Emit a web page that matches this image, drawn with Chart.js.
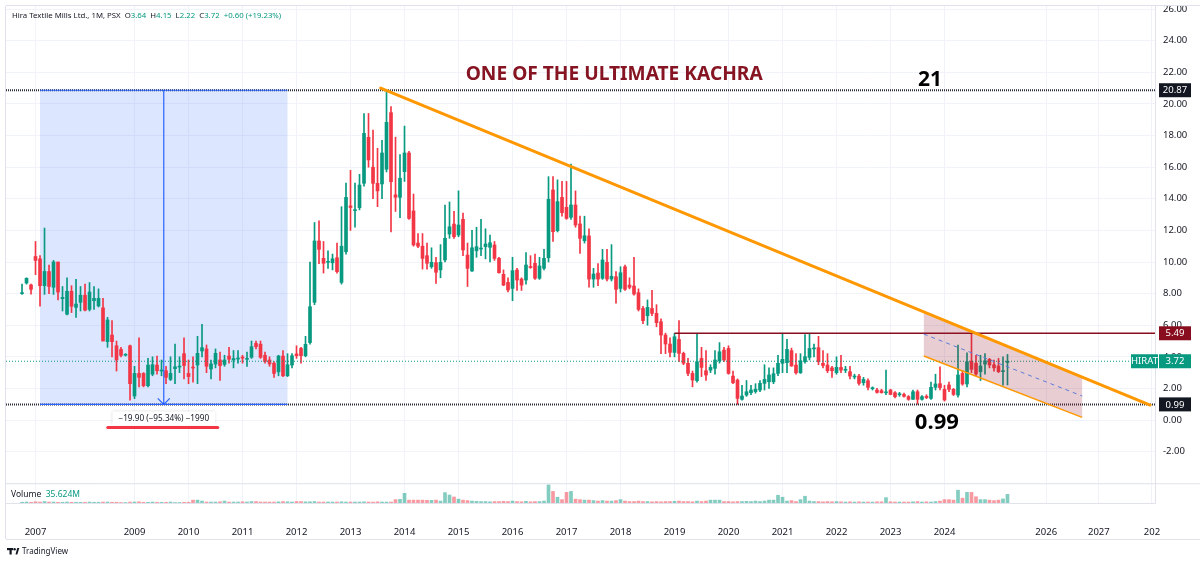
<!DOCTYPE html>
<html>
<head>
<meta charset="utf-8">
<script src="https://cdn.jsdelivr.net/npm/chart.js@4.4.1/dist/chart.umd.min.js"></script>
<style>
  html, body { margin: 0; padding: 0; background: #fff; }
</style>
</head>
<body>
<canvas id="chart" width="1200" height="562"></canvas>
<script>
// monthly bars, Oct 2006 .. Mar 2025 (index based like TradingView)
const opens = [
  8.00, 8.67, 8.55, 10.35, 10.20, 8.50, 9.40, 8.40, 10.00, 7.68,
  6.70, 8.15, 7.13, 7.45, 7.90, 7.00, 7.55, 7.22, 7.10, 4.96,
  5.38, 4.70, 4.47, 4.10, 4.70, 1.52, 2.95, 2.95, 2.17, 2.90,
  3.48, 3.10, 3.12, 2.57, 3.25, 3.35, 4.20, 2.95, 3.33, 3.48,
  4.37, 4.50, 3.23, 3.54, 3.80, 3.52, 4.05, 3.80, 3.86, 3.96,
  3.84, 3.97, 4.85, 4.80, 4.10, 3.80, 3.60, 3.05, 4.05, 2.80,
  3.48, 4.18, 4.53, 4.07, 4.90, 7.45, 11.33, 10.23, 9.98, 9.95,
  10.27, 8.71, 10.65, 13.55, 13.25, 13.44, 14.98, 17.89, 16.00, 14.98,
  14.94, 15.87, 19.45, 14.25, 14.09, 15.72, 16.90, 13.23, 11.20, 11.00,
  10.40, 9.70, 9.96, 9.50, 10.13, 11.77, 12.40, 11.71, 12.70, 10.44,
  9.43, 10.71, 10.82, 10.97, 10.93, 11.08, 10.23, 9.22, 8.71, 8.33,
  9.49, 8.92, 8.86, 9.70, 9.92, 8.97, 9.60, 10.27, 14.56, 11.98,
  14.09, 13.46, 12.83, 13.61, 12.41, 11.35, 11.65, 8.92, 9.30, 8.97,
  9.98, 8.92, 9.07, 8.33, 9.70, 8.54, 8.48, 8.06, 7.06, 6.60,
  7.06, 6.75, 6.22, 5.38, 4.81, 4.28, 5.10, 4.22, 3.59, 2.95,
  2.49, 3.90, 3.12, 3.16, 3.27, 3.75, 4.43, 4.53, 2.78, 2.53,
  1.31, 1.58, 1.73, 1.80, 1.90, 2.32, 2.42, 2.42, 2.95, 3.59,
  3.63, 4.39, 3.48, 2.99, 3.69, 3.96, 4.50, 4.58, 3.59, 3.48,
  3.30, 3.00, 3.33, 3.15, 3.06, 2.72, 2.78, 2.36, 2.49, 1.98,
  1.90, 1.86, 1.72, 1.90, 1.73, 1.60, 1.62, 1.48, 1.31, 1.79,
  1.31, 1.50, 1.37, 2.07, 2.30, 1.94, 2.22, 1.94, 1.58, 2.95,
  2.28, 3.73, 3.60, 3.06, 3.54, 3.84, 3.50, 3.42, 3.06, 3.64
];
const highs = [
  8.60, 9.00, 8.60, 11.30, 10.40, 12.15, 9.80, 10.10, 10.00, 8.45,
  9.00, 8.50, 8.90, 8.45, 8.60, 8.70, 8.45, 8.30, 7.70, 6.50,
  6.30, 5.00, 4.60, 4.20, 4.75, 3.40, 5.20, 3.00, 3.90, 4.00,
  4.05, 3.80, 3.40, 4.00, 4.80, 4.00, 5.20, 3.80, 4.00, 5.30,
  6.05, 4.75, 3.80, 4.50, 4.30, 4.10, 4.60, 4.40, 4.40, 4.10,
  4.30, 5.00, 5.00, 5.00, 4.30, 4.00, 3.70, 4.10, 4.40, 4.20,
  4.20, 4.70, 4.60, 5.30, 10.00, 12.50, 12.60, 11.30, 10.70, 10.50,
  11.20, 13.50, 15.00, 15.80, 15.00, 15.55, 19.40, 19.40, 18.35, 17.20,
  17.70, 20.87, 19.83, 17.90, 16.80, 18.60, 17.00, 14.30, 11.80, 11.80,
  11.20, 10.90, 10.30, 11.10, 13.60, 13.80, 13.20, 14.50, 13.10, 11.20,
  12.00, 12.20, 12.70, 12.10, 11.70, 11.30, 10.30, 9.50, 9.00, 10.30,
  9.60, 9.00, 10.60, 10.40, 10.50, 10.30, 10.80, 15.40, 15.40, 15.20,
  15.10, 15.10, 16.20, 14.50, 12.90, 12.90, 12.10, 9.60, 9.90, 10.80,
  10.80, 11.10, 9.40, 9.70, 9.80, 9.00, 10.30, 8.30, 7.20, 7.60,
  8.20, 7.30, 6.40, 5.50, 5.20, 5.49, 6.30, 4.30, 3.90, 3.10,
  5.49, 4.60, 4.40, 3.50, 4.40, 4.90, 4.60, 4.70, 3.10, 2.60,
  2.20, 2.50, 2.20, 2.30, 2.50, 3.50, 3.30, 3.30, 4.10, 5.49,
  5.10, 4.55, 4.20, 4.20, 5.40, 5.45, 4.80, 5.30, 4.40, 4.20,
  3.40, 4.00, 4.10, 3.40, 3.40, 2.90, 2.90, 2.70, 2.60, 2.10,
  2.00, 1.95, 3.16, 1.95, 1.80, 1.75, 1.70, 1.55, 1.90, 1.90,
  1.55, 1.60, 2.40, 2.90, 3.37, 2.20, 2.40, 2.00, 4.75, 3.10,
  4.26, 5.49, 4.10, 4.10, 4.20, 3.90, 3.80, 3.90, 4.00, 4.15
];
const lows = [
  7.95, 8.60, 7.97, 9.20, 7.20, 7.95, 8.00, 7.95, 7.60, 6.90,
  6.65, 6.80, 6.50, 6.90, 6.90, 6.90, 7.00, 7.15, 5.00, 4.60,
  4.00, 3.10, 4.00, 4.05, 1.25, 1.35, 2.10, 2.10, 2.10, 2.80,
  2.90, 2.80, 2.30, 2.50, 2.30, 3.00, 2.60, 2.30, 2.40, 2.30,
  4.00, 3.00, 2.60, 3.30, 2.50, 3.40, 3.60, 3.30, 3.60, 3.60,
  3.40, 3.90, 4.50, 3.90, 3.60, 3.40, 2.70, 2.80, 2.75, 2.75,
  3.30, 3.90, 3.60, 4.00, 4.80, 7.30, 9.90, 9.30, 9.60, 9.50,
  9.30, 8.60, 10.50, 12.00, 12.20, 13.30, 14.80, 16.00, 14.00, 13.50,
  14.00, 15.70, 11.90, 13.20, 12.80, 15.10, 12.70, 11.00, 10.90, 9.55,
  9.55, 9.60, 8.65, 9.00, 10.00, 11.50, 11.50, 11.60, 10.40, 8.45,
  9.40, 10.30, 10.40, 10.20, 10.00, 10.10, 9.30, 8.50, 8.10, 7.55,
  8.20, 8.20, 8.60, 9.60, 8.90, 8.90, 9.50, 10.00, 11.30, 11.90,
  12.90, 12.70, 12.70, 12.20, 10.55, 11.20, 8.40, 8.40, 8.50, 8.90,
  8.80, 8.80, 7.40, 8.10, 8.20, 8.30, 7.90, 6.90, 6.10, 6.00,
  6.60, 5.90, 4.20, 4.20, 4.00, 4.00, 3.70, 3.50, 2.80, 2.10,
  2.40, 2.75, 2.50, 3.00, 2.90, 3.60, 3.70, 2.90, 2.30, 0.99,
  1.25, 1.50, 1.60, 1.70, 1.80, 1.90, 2.00, 2.30, 2.80, 3.00,
  3.00, 3.40, 2.90, 2.95, 3.60, 3.80, 4.00, 3.50, 3.30, 3.00,
  2.70, 2.90, 3.00, 3.00, 2.60, 2.60, 2.20, 2.20, 1.90, 1.90,
  1.70, 1.70, 1.60, 1.60, 1.40, 1.50, 1.45, 1.25, 1.30, 1.00,
  1.25, 1.35, 1.30, 1.90, 1.90, 1.20, 1.80, 1.55, 1.45, 2.20,
  2.10, 3.00, 2.80, 2.50, 2.90, 3.30, 3.10, 3.00, 2.20, 2.22
];
const closes = [
  8.05, 8.97, 8.27, 10.10, 8.50, 9.40, 8.45, 10.00, 8.10, 7.76,
  8.15, 7.20, 7.34, 7.90, 6.95, 8.10, 7.70, 7.70, 5.00, 6.33,
  4.96, 3.80, 4.09, 4.12, 2.30, 2.95, 2.70, 2.17, 3.48, 3.50,
  3.12, 3.15, 2.70, 2.95, 3.37, 3.40, 3.45, 2.75, 3.29, 4.22,
  4.58, 3.40, 3.55, 4.22, 3.44, 3.80, 3.85, 3.89, 3.90, 3.92,
  3.88, 4.64, 4.64, 3.97, 3.70, 3.55, 2.95, 4.05, 2.80, 3.50,
  4.07, 4.07, 4.07, 4.79, 7.17, 11.33, 10.80, 9.92, 10.02, 10.20,
  9.39, 11.00, 14.09, 13.45, 13.30, 14.87, 18.14, 16.46, 14.98, 14.50,
  16.90, 18.84, 15.08, 14.10, 15.30, 16.90, 12.76, 11.08, 11.00, 10.23,
  9.92, 9.98, 9.35, 9.98, 11.50, 12.23, 11.60, 12.34, 10.76, 9.60,
  10.90, 10.97, 10.86, 11.14, 11.22, 10.23, 9.32, 8.54, 8.23, 9.45,
  8.86, 8.54, 9.81, 9.65, 8.97, 9.75, 10.23, 13.97, 11.92, 13.82,
  13.12, 12.76, 13.61, 12.34, 11.50, 11.66, 8.92, 9.24, 8.92, 10.13,
  8.92, 9.10, 8.27, 9.32, 8.27, 8.40, 7.97, 7.00, 6.29, 7.13,
  6.75, 6.16, 5.38, 4.81, 4.28, 5.27, 4.22, 3.59, 2.95, 2.53,
  3.69, 3.33, 2.85, 3.33, 3.80, 4.32, 3.80, 2.95, 2.36, 1.37,
  1.52, 1.79, 1.90, 1.95, 2.32, 2.57, 2.85, 2.93, 3.59, 3.84,
  4.47, 3.42, 2.99, 3.75, 4.01, 4.53, 4.55, 3.69, 3.45, 3.12,
  3.12, 3.33, 3.16, 3.20, 2.78, 2.76, 2.32, 2.57, 2.07, 2.02,
  1.75, 1.73, 1.75, 1.62, 1.48, 1.64, 1.50, 1.31, 1.79, 1.31,
  1.48, 1.42, 2.07, 2.28, 2.05, 1.27, 1.94, 1.62, 2.85, 2.28,
  3.69, 3.21, 2.91, 3.42, 3.75, 3.48, 3.30, 3.06, 3.12, 3.72
];
// volume in millions
const volumes = [
  3, 4, 3, 5, 4, 6, 4, 4, 3, 3, 4, 3, 3, 3, 3, 4, 3, 3, 4, 4,
  3, 3, 2, 2, 4, 4, 5, 3, 3, 4, 3, 3, 3, 4, 2, 2, 3, 3,
  12, 12, 8, 4, 4, 4, 5, 8, 4, 4, 4, 5, 4, 6, 6, 4, 4, 4, 4, 5, 6, 5, 4, 6, 6, 5,
  5, 6, 4, 4, 4, 4, 4, 5, 4, 4, 4, 4, 5, 4, 4, 5, 4, 4, 4,
  14, 15, 40, 12, 12, 12, 12, 11, 11, 12, 8, 43, 33, 25, 16, 12, 10,
  8, 7, 6, 6, 5, 6, 6, 7, 6, 8, 6, 5, 7, 5, 6, 6, 8,
  75, 48, 24, 14, 44, 48, 16, 14, 12, 12, 10, 8, 10, 8,
  8, 10, 14, 8, 6, 6, 8, 6, 6, 5, 6, 5, 6, 6, 7, 8, 6, 6, 5, 8,
  6, 8, 12, 12, 12, 6, 6, 5, 6, 6, 7, 6, 8, 6, 8, 12, 12,
  32, 24, 8, 10, 6, 14, 28, 8, 6, 6, 5, 6, 5, 6, 5, 4, 5, 4, 5, 4, 4, 4, 5,
  5, 22, 5, 4, 4, 4, 4, 5, 6, 4, 5, 4, 6, 8, 14, 14, 12,
  53, 20, 44, 44, 26, 14, 14, 12, 10, 12, 17, 35.624
];
const tickIdx = [3, 25, 37, 49, 61, 73, 85, 97, 109, 121, 133, 145, 157, 169, 181, 193, 205, 227.6, 239.3, 251.1];
const tickLabels = ['2007', '2009', '2010', '2011', '2012', '2013', '2014', '2015', '2016', '2017',
  '2018', '2019', '2020', '2021', '2022', '2023', '2024', '2026', '2027', '202'];

// drawings (bar index, price)
const rangeBox = { i0: 4, i1: 59, top: 20.87, bottom: 0.99 };
const trend = { i0: 79.7, p0: 21.0, i1: 250.7, p1: 0.95 };
const channel = { i0: 200.4, i1: 235.6, up: [6.85, 2.78], mid: [5.44, 1.52], low: [4.05, 0.17] };
const resist = { i0: 145, p: 5.49 };
const highLine = 20.87, lowLine = 0.99;

const GREEN = '#089981', RED = '#f23645', TXT = '#131722', GRID = '#f0f3fa', LINE = '#e0e3eb';
const FONT = "'Noto Sans', sans-serif";
const n = closes.length;
const idx = closes.map((_, i) => i);
const up = i => closes[i] >= opens[i];
const last = n - 1;

const drawings = {
  id: 'drawings',
  beforeDatasetsDraw(chart) {
    const { ctx, scales: { x, y } } = chart;
    const x0 = x.getPixelForValue(rangeBox.i0), x1 = x.getPixelForValue(rangeBox.i1);
    const y0 = y.getPixelForValue(rangeBox.top), y1 = y.getPixelForValue(rangeBox.bottom);
    ctx.save();
    ctx.fillStyle = 'rgba(41,98,255,0.16)';
    ctx.fillRect(x0, y0, x1 - x0, y1 - y0);
    ctx.restore();
  },
  afterDatasetsDraw(chart) {
    const { ctx, chartArea: a, scales: { x, y } } = chart;
    const X = v => x.getPixelForValue(v), Y = v => y.getPixelForValue(v);
    ctx.save();
    ctx.beginPath(); ctx.rect(a.left, a.top, a.right - a.left, a.bottom - a.top); ctx.clip();

    // last price dotted line
    ctx.strokeStyle = GREEN; ctx.lineWidth = 1; ctx.setLineDash([1, 2]);
    ctx.beginPath(); ctx.moveTo(a.left, Y(closes[last])); ctx.lineTo(a.right, Y(closes[last])); ctx.stroke();

    // high / low horizontal lines
    ctx.strokeStyle = '#2a2e39'; ctx.lineWidth = 2; ctx.setLineDash([1, 1]);
    [highLine, lowLine].forEach(p => {
      ctx.beginPath(); ctx.moveTo(a.left, Y(p)); ctx.lineTo(a.right, Y(p)); ctx.stroke();
    });
    ctx.setLineDash([]);

    // range box edges and arrow
    const bx0 = X(rangeBox.i0), bx1 = X(rangeBox.i1), bxm = (bx0 + bx1) / 2;
    const by0 = Y(rangeBox.top), by1 = Y(rangeBox.bottom);
    ctx.strokeStyle = '#2962ff'; ctx.lineWidth = 1.2;
    ctx.beginPath();
    ctx.moveTo(bx0, by0); ctx.lineTo(bx1, by0);
    ctx.moveTo(bx0, by1); ctx.lineTo(bx1, by1);
    ctx.moveTo(bxm, by0); ctx.lineTo(bxm, by1);
    ctx.moveTo(bxm - 6, by1 - 6); ctx.lineTo(bxm, by1); ctx.lineTo(bxm + 6, by1 - 6);
    ctx.stroke();

    // resistance line
    ctx.strokeStyle = '#880e1f'; ctx.lineWidth = 1.5;
    ctx.beginPath(); ctx.moveTo(X(resist.i0), Y(resist.p)); ctx.lineTo(a.right, Y(resist.p)); ctx.stroke();

    // channel
    const c = channel;
    ctx.fillStyle = 'rgba(150,30,50,0.22)';
    ctx.beginPath();
    ctx.moveTo(X(c.i0), Y(c.up[0])); ctx.lineTo(X(c.i1), Y(c.up[1]));
    ctx.lineTo(X(c.i1), Y(c.low[1])); ctx.lineTo(X(c.i0), Y(c.low[0]));
    ctx.closePath(); ctx.fill();
    ctx.strokeStyle = '#ff9800'; ctx.lineWidth = 1.5;
    ctx.beginPath(); ctx.moveTo(X(c.i0), Y(c.low[0])); ctx.lineTo(X(c.i1), Y(c.low[1])); ctx.stroke();
    ctx.strokeStyle = '#5b7bd6'; ctx.lineWidth = 1; ctx.setLineDash([4, 4]);
    ctx.beginPath(); ctx.moveTo(X(c.i0), Y(c.mid[0])); ctx.lineTo(X(c.i1), Y(c.mid[1])); ctx.stroke();
    ctx.setLineDash([]);

    // main trend line
    ctx.strokeStyle = '#ff9800'; ctx.lineWidth = 3; ctx.lineCap = 'round';
    ctx.beginPath(); ctx.moveTo(X(trend.i0), Y(trend.p0)); ctx.lineTo(X(trend.i1), Y(trend.p1)); ctx.stroke();

    // range label + red underline
    const ly = Y(rangeBox.bottom) + 14;
    ctx.font = '8.2px ' + FONT;
    const lbl = '\u221219.90 (\u221295.34%) \u22121990';
    const lw = ctx.measureText(lbl).width + 12;
    ctx.shadowColor = 'rgba(0,0,0,0.18)'; ctx.shadowBlur = 3;
    ctx.fillStyle = '#fff';
    ctx.fillRect(bxm - lw / 2, ly - 7, lw, 14);
    ctx.shadowBlur = 0; ctx.shadowColor = 'transparent';
    ctx.fillStyle = TXT; ctx.textAlign = 'center'; ctx.textBaseline = 'middle';
    ctx.fillText(lbl, bxm, ly);
    ctx.strokeStyle = RED; ctx.lineWidth = 3;
    ctx.beginPath(); ctx.moveTo(bxm - 56, ly + 9); ctx.lineTo(bxm + 54, ly + 9); ctx.stroke();

    // texts
    ctx.fillStyle = '#861422';
    ctx.font = '700 20px ' + FONT;
    const title = 'ONE OF THE ULTIMATE KACHRA';
    const tw = ctx.measureText(title).width;
    ctx.save();
    ctx.translate(X(131.6), Y(21.9));
    ctx.scale(297 / tw, 1);
    ctx.fillText(title, 0, 0);
    ctx.restore();
    ctx.fillStyle = '#000';
    ctx.font = "700 21px 'Open Sans', sans-serif";
    ctx.fillText('21', X(201.8), Y(21.5));
    ctx.font = "700 22px 'Open Sans', sans-serif";
    ctx.fillText('0.99', X(203.3), Y(-0.2));
    ctx.restore();
  },
  afterDraw(chart) {
    const { ctx, chartArea: a, scales: { y } } = chart;
    const Y = v => y.getPixelForValue(v);
    ctx.save();
    // pane frame
    ctx.strokeStyle = LINE; ctx.lineWidth = 1;
    ctx.beginPath();
    ctx.moveTo(a.left, Y(-4) + 0.5); ctx.lineTo(1200, Y(-4) + 0.5);
    ctx.moveTo(a.left, a.top - 0.5); ctx.lineTo(1200, a.top - 0.5);
    ctx.moveTo(a.left - 0.5, a.top); ctx.lineTo(a.left - 0.5, a.bottom + 36);
    ctx.moveTo(a.left, a.bottom + 36.5); ctx.lineTo(1200, a.bottom + 36.5);
    ctx.stroke();

    // price tags on the axis
    const tag = (p, bg, text, x0, w) => {
      ctx.fillStyle = bg;
      ctx.fillRect(x0, Y(p) - 7, w, 14);
      ctx.fillStyle = '#fff'; ctx.font = '9.5px ' + FONT;
      ctx.textAlign = 'center'; ctx.textBaseline = 'middle';
      ctx.fillText(text, x0 + w / 2, Y(p) + 0.5);
    };
    tag(highLine, TXT, highLine.toFixed(2), a.right + 4, 32);
    tag(resist.p, '#880e1f', resist.p.toFixed(2), a.right + 4, 32);
    tag(closes[last], GREEN, 'HIRAT', a.right - 24, 27);
    tag(closes[last], GREEN, closes[last].toFixed(2), a.right + 4, 32);
    tag(lowLine, TXT, lowLine.toFixed(2), a.right + 4, 32);

    // legend / header
    ctx.textAlign = 'left'; ctx.textBaseline = 'middle';
    ctx.font = '7.8px ' + FONT;
    const chg = closes[last] - closes[last - 1];
    const pct = chg / closes[last - 1] * 100;
    const parts = [
      ['Hira Textile Mills Ltd., 1M, PSX  ', TXT], ['O', TXT], [opens[last].toFixed(2), GREEN],
      ['  H', TXT], [highs[last].toFixed(2), GREEN], ['  L', TXT], [lows[last].toFixed(2), GREEN],
      ['  C', TXT], [closes[last].toFixed(2), GREEN],
      ['  ' + (chg >= 0 ? '+' : '') + chg.toFixed(2) + ' (' + (pct >= 0 ? '+' : '') + pct.toFixed(2) + '%)', GREEN]
    ];
    let hx = 12;
    parts.forEach(([t, col]) => { ctx.fillStyle = col; ctx.fillText(t, hx, 16); hx += ctx.measureText(t).width; });

    ctx.font = '8.5px ' + FONT;
    ctx.fillStyle = TXT;
    ctx.fillText('Volume', 11, Y(-4) + 11);
    ctx.fillStyle = GREEN;
    ctx.fillText(volumes[last].toFixed(3) + 'M', 11 + ctx.measureText('Volume  ').width, Y(-4) + 11);

    // TradingView mark
    ctx.fillStyle = TXT;
    ctx.fillRect(7, 548, 6, 2.2);
    ctx.fillRect(9.5, 548, 2.2, 6.5);
    ctx.beginPath(); ctx.arc(14.6, 549.2, 1.2, 0, Math.PI * 2); ctx.fill();
    ctx.beginPath(); ctx.moveTo(15.5, 554.5); ctx.lineTo(17.2, 548); ctx.lineTo(19.3, 548); ctx.lineTo(17.3, 554.5); ctx.closePath(); ctx.fill();
    ctx.font = '8px ' + FONT;
    ctx.fillText('TradingView', 22, 551.5);
    ctx.restore();
  }
};

const ctx = document.getElementById('chart');
new Chart(ctx, {
  type: 'bar',
  data: {
    datasets: [
      {
        label: 'body',
        data: idx.map(i => ({ x: i, y: [opens[i], closes[i]] })),
        backgroundColor: c => up(c.dataIndex) ? GREEN : RED,
        barThickness: 3, minBarLength: 1, grouped: false, order: 0, yAxisID: 'y'
      },
      {
        label: 'wick',
        data: idx.map(i => ({ x: i, y: [lows[i], highs[i]] })),
        backgroundColor: c => up(c.dataIndex) ? GREEN : RED,
        barThickness: 1, grouped: false, order: 1, yAxisID: 'y'
      },
      {
        label: 'volume',
        data: idx.map(i => ({ x: i, y: volumes[i] })),
        backgroundColor: c => up(c.dataIndex) ? 'rgba(8,153,129,0.5)' : 'rgba(242,54,69,0.5)',
        barThickness: 3, grouped: false, order: 2, yAxisID: 'yv'
      }
    ]
  },
  options: {
    responsive: false,
    animation: false,
    devicePixelRatio: 1,
    layout: { padding: { left: 6, top: 6, right: 0, bottom: 23 } },
    plugins: { legend: { display: false }, tooltip: { enabled: false } },
    scales: {
      x: {
        type: 'linear', min: -3.56, max: 251.78, offset: false,
        grid: { offset: false, color: GRID, drawTicks: false },
        border: { color: LINE },
        afterBuildTicks: s => { s.ticks = tickIdx.map(v => ({ value: v })); },
        afterFit: s => { s.height = 36; s.paddingLeft = 0; s.paddingRight = 0; },
        ticks: {
          autoSkip: false, maxRotation: 0, padding: 24, color: TXT,
          font: { family: FONT, size: 9.5 },
          callback: (v, k) => tickLabels[k]
        }
      },
      y: {
        position: 'right', min: -5.25, max: 26.2,
        grid: { color: GRID, drawTicks: false },
        border: { color: LINE },
        afterFit: s => { s.width = 45; s.paddingTop = 0; s.paddingBottom = 0; },
        ticks: {
          stepSize: 2, includeBounds: false, padding: 8, color: TXT,
          font: { family: FONT, size: 9.5 },
          callback: v => v < -3 ? '' : v.toFixed(2)
        }
      },
      yv: { display: false, min: 0, max: 2058 }
    }
  },
  plugins: [drawings]
});
</script>
</body>
</html>
